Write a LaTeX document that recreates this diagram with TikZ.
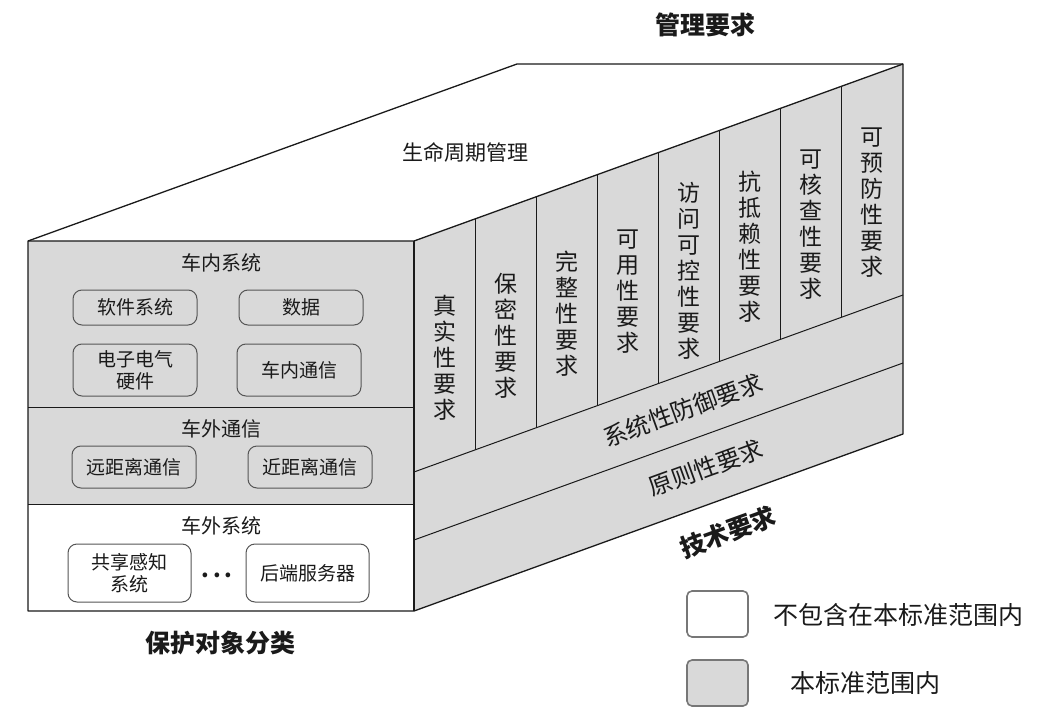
\documentclass[tikz,border=0pt]{standalone}
\usepackage{fontspec}
\setmainfont{Noto Sans CJK SC}
\usetikzlibrary{calc}
\definecolor{facegray}{HTML}{D9D9D9}
\definecolor{ink}{HTML}{1A1A1A}
\definecolor{boxline}{HTML}{555555}
\definecolor{legline}{HTML}{777777}
\begin{document}
\begin{tikzpicture}[x=1pt,y=-1pt,
 edge/.style={draw=ink,line width=1.3pt,line join=round},
 sep/.style={draw=ink,line width=1pt},
 item/.style={draw=boxline,line width=1pt,rounded corners=9pt,minimum width=124pt,align=center,font=\fontsize{19}{22}\selectfont,text=ink,inner sep=0pt},
 lbl/.style={font=\fontsize{20}{24}\selectfont,text=ink,inner sep=0pt},
 coltext/.style={align=center,font=\fontsize{23}{26}\selectfont,text=ink,inner sep=0pt},
 band/.style={rotate=19.9,font=\fontsize{24}{26}\selectfont,text=ink,inner sep=0pt},
 title/.style={font=\fontsize{25}{28}\selectfont\bfseries,text=ink,inner sep=0pt},
 legbox/.style={draw=legline,line width=1.6pt,rounded corners=5pt,minimum width=61pt,minimum height=46pt,inner sep=0pt},
 legtext/.style={font=\fontsize{25}{28}\selectfont,text=ink,anchor=west,inner sep=0pt}]
\useasboundingbox (0,0) rectangle (1064,714);
% corners
\coordinate (FTL) at (28,241);
\coordinate (FTR) at (414,241);
\coordinate (FBR) at (414,611);
\coordinate (FBL) at (28,611);
\coordinate (BTL) at (517,64);
\coordinate (BTR) at (903,64);
\coordinate (BBR) at (903,434);
\coordinate (A0) at (414,472);
\coordinate (A1) at (903,295);
\coordinate (B0) at (414,540);
\coordinate (B1) at (903,363);
\coordinate (M1L) at (28,407);
\coordinate (M1R) at (414,407);
\coordinate (M2L) at (28,504);
\coordinate (M2R) at (414,504);
% faces
\fill[white] (FTL) -- (BTL) -- (BTR) -- (FTR) -- cycle;
\fill[facegray] (FTR) -- (BTR) -- (BBR) -- (FBR) -- cycle;
\fill[facegray] (FTL) rectangle (M2R);
\fill[white] (M2L) rectangle (FBR);
% separators
\draw[sep] (M1L) -- (M1R);
\draw[sep] (M2L) -- (M2R);
\draw[sep] (A0) -- (A1);
\draw[sep] (B0) -- (B1);
\foreach \i in {1,...,7}{
  \draw[sep] ($(FTR)!\i/8!(BTR)$) -- ($(A0)!\i/8!(A1)$);
}
% outlines
\draw[edge] (FTL) -- (BTL) -- (BTR) -- (BBR) -- (FBR) -- (FBL) -- cycle;
\draw[edge] (FTL) -- (FTR) -- (BTR);
\draw[edge] (FTR) -- (FBR);
% top face text
\node[font=\fontsize{21}{24}\selectfont,text=ink] (life) at (465,152) {生命周期管理};
% column texts
\node[coltext] (c1) at (444.6,358) {真\\实\\性\\要\\求};
\node[coltext] (c2) at (505.7,336) {保\\密\\性\\要\\求};
\node[coltext] (c3) at (566.8,314) {完\\整\\性\\要\\求};
\node[coltext] (c4) at (627.9,292) {可\\用\\性\\要\\求};
\node[coltext] (c5) at (689.0,271) {访\\问\\可\\控\\性\\要\\求};
\node[coltext] (c6) at (750.1,247) {抗\\抵\\赖\\性\\要\\求};
\node[coltext] (c7) at (811.2,225) {可\\核\\查\\性\\要\\求};
\node[coltext] (c8) at (872.3,203) {可\\预\\防\\性\\要\\求};
% bands
\node[band] (sys) at (683,410) {系统性防御要求};
\node[band] (pri) at (706,468) {原则性要求};
% front face
\node[lbl] (inner) at (221,263) {车内系统};
\node[item,minimum height=35pt] (sw) at (135,307.5) {软件系统};
\node[item,minimum height=35pt] (data) at (301,307.5) {数据};
\node[item,minimum height=52pt] (hw) at (135,370) {电子电气\\硬件};
\node[item,minimum height=52pt] (icom) at (299,370) {车内通信};
\node[lbl] (outcom) at (221,429) {车外通信};
\node[item,minimum height=42pt] (far) at (134,467) {远距离通信};
\node[item,minimum height=42pt] (near) at (310,467) {近距离通信};
\node[lbl] (outsys) at (221,526) {车外系统};
\node[item,minimum width=123pt,minimum height=58pt] (share) at (129.5,573) {共享感知\\系统};
\node[item,minimum width=123pt,minimum height=58pt] (server) at (307.5,573) {后端服务器};
\node[font=\fontsize{22}{24}\selectfont\bfseries,text=ink,inner sep=0pt] (dots) at (217,575) {.\,.\,.};
% titles
\node[title] (mgmt) at (705,25) {管理要求};
\node[title,rotate=19.9] (tech) at (728,532) {技术要求};
\node[title] (prot) at (220,643) {保护对象分类};
% legend
\node[legbox,fill=white] (lw) at (717.5,614) {};
\node[legbox,fill=facegray] (lg) at (717.5,683) {};
\node[legtext] (lwt) at (773,615) {不包含在本标准范围内};
\node[legtext] (lgt) at (790,683) {本标准范围内};
\end{tikzpicture}
\end{document}
